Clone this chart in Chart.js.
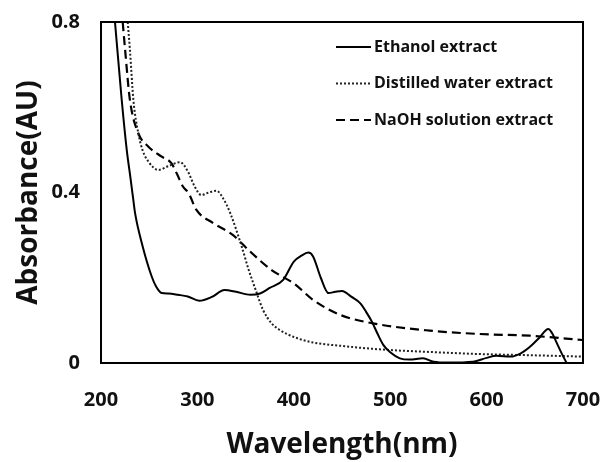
<!DOCTYPE html>
<html>
<head>
<meta charset="utf-8">
<script src="https://cdn.jsdelivr.net/npm/chart.js@4.4.1/dist/chart.umd.min.js"></script>
<style>
  html, body { margin: 0; padding: 0; background: #fff; }
  #wrap { width: 611px; height: 462px; }
</style>
</head>
<body>
<div id="wrap"><canvas id="absChart"></canvas></div>
<script>
// series (wavelength in nm, absorbance in AU)
var ethanolWl  = [214.5, 221.5, 226.7, 230.7, 233.5, 235.3, 243.3, 252.6, 257, 263, 270, 280, 290, 302, 315, 328, 340, 355, 365, 375, 389, 400, 408, 415, 420, 428, 436, 443, 450, 460, 469, 475, 481, 487, 493, 500, 510, 520, 534, 545, 560, 586, 600, 610, 625, 635, 645, 655, 664, 668, 673, 678, 683];
var ethanolAbs = [0.8, 0.617, 0.5, 0.432, 0.383, 0.352, 0.273, 0.203, 0.18, 0.164, 0.163, 0.16, 0.156, 0.146, 0.155, 0.171, 0.167, 0.16, 0.163, 0.176, 0.195, 0.238, 0.252, 0.259, 0.25, 0.2, 0.164, 0.167, 0.169, 0.155, 0.14, 0.12, 0.097, 0.068, 0.042, 0.025, 0.011, 0.008, 0.011, 0.003, 0.001, 0.003, 0.012, 0.017, 0.015, 0.022, 0.038, 0.06, 0.08, 0.07, 0.046, 0.022, 0.0];

var waterWl  = [227.7, 230, 233.6, 238.7, 243, 250, 259.5, 270, 282, 290, 297, 304, 312, 320, 327, 334, 346, 353, 360.5, 368, 377, 385, 393, 405, 420, 450, 489, 540, 593, 650, 700];
var waterAbs = [0.8, 0.735, 0.617, 0.539, 0.5, 0.47, 0.453, 0.462, 0.471, 0.45, 0.415, 0.394, 0.4, 0.404, 0.385, 0.352, 0.273, 0.22, 0.171, 0.125, 0.093, 0.078, 0.068, 0.057, 0.048, 0.04, 0.032, 0.026, 0.021, 0.018, 0.015];

var naohWl  = [222.5, 225, 230, 238.7, 249, 263, 273, 278.5, 285, 291, 299, 316.5, 337, 353, 377, 391, 400, 420, 448, 482, 541, 593, 645, 700];
var naohAbs = [0.8, 0.735, 0.617, 0.539, 0.508, 0.484, 0.469, 0.445, 0.414, 0.398, 0.359, 0.328, 0.3, 0.265, 0.218, 0.199, 0.187, 0.148, 0.113, 0.093, 0.076, 0.068, 0.064, 0.054];

var seriesNames = ['Ethanol extract', 'Distilled water extract', 'NaOH solution extract'];
var xTicks = [200, 300, 400, 500, 600, 700];
var yTicks = [0, 0.4, 0.8];

function toPoints(xs, ys) {
    return xs.map(function(x, i) { return {x: x, y: ys[i]}; });
}

var FONT = "'Open Sans', 'DejaVu Sans', sans-serif";

// box around the plot area + legend inside it
var frameAndLegend = {
    id: 'frameAndLegend',
    afterDraw: function(chart) {
        var c = chart.ctx, a = chart.chartArea;
        c.save();
        c.strokeStyle = '#000';
        c.lineWidth = 2;
        c.setLineDash([]);
        c.strokeRect(a.left, a.top, a.right - a.left, a.bottom - a.top);

        var x0 = 336, x1 = 371, y0 = 47, step = 36.5;
        chart.data.datasets.forEach(function(ds, i) {
            var y = y0 + i * step;
            c.beginPath();
            c.strokeStyle = ds.borderColor;
            c.lineWidth = ds.borderWidth;
            c.setLineDash(ds.borderDash || []);
            c.moveTo(x0, y);
            c.lineTo(x1, y);
            c.stroke();
            c.setLineDash([]);
            c.fillStyle = '#111';
            c.font = 'bold 16px ' + FONT;
            c.textBaseline = 'middle';
            c.textAlign = 'left';
            c.fillText(ds.label, x1 + 3, y);
        });
        c.restore();
    }
};

// invisible tick marks, only used to push the labels away from the frame
function hiddenGrid(len) {
    return { display: true, drawOnChartArea: false, drawTicks: true, tickLength: len,
             color: 'rgba(0,0,0,0)', tickColor: 'rgba(0,0,0,0)' };
}

var ctx = document.getElementById('absChart');

var absChart = new Chart(ctx, {
    type: 'line',
    data: {
        datasets: [{
            label: seriesNames[0],
            data: toPoints(ethanolWl, ethanolAbs),
            borderColor: '#000',
            borderWidth: 2,
            pointRadius: 0,
            cubicInterpolationMode: 'monotone'
        }, {
            label: seriesNames[1],
            data: toPoints(waterWl, waterAbs),
            borderColor: '#222',
            borderWidth: 2,
            borderDash: [2, 2],
            pointRadius: 0,
            cubicInterpolationMode: 'monotone'
        }, {
            label: seriesNames[2],
            data: toPoints(naohWl, naohAbs),
            borderColor: '#000',
            borderWidth: 2.2,
            borderDash: [9, 5],
            pointRadius: 0,
            cubicInterpolationMode: 'monotone'
        }]
    },
    options: {
        responsive: true,
        maintainAspectRatio: false,
        animation: false,
        layout: { padding: { left: 0, top: 22, right: 28, bottom: 0 } },
        plugins: {
            legend: { display: false },
            tooltip: { enabled: false }
        },
        scales: {
            x: {
                type: 'linear',
                min: 200,
                max: 700,
                afterFit: function(scale) { scale.height = 99; },
                afterBuildTicks: function(scale) {
                    scale.ticks = xTicks.map(function(v) { return {value: v}; });
                },
                grid: hiddenGrid(24),
                border: { display: false },
                ticks: {
                    padding: 1,
                    color: '#111',
                    font: { family: FONT, size: 20, weight: 'bold' }
                },
                title: {
                    display: true,
                    text: 'Wavelength(nm)',
                    color: '#111',
                    padding: { top: 0, bottom: 0 },
                    font: { family: FONT, size: 28, weight: 'bold' }
                }
            },
            y: {
                min: 0,
                max: 0.8,
                afterFit: function(scale) { scale.width = 101; },
                afterBuildTicks: function(scale) {
                    scale.ticks = yTicks.map(function(v) { return {value: v}; });
                },
                grid: hiddenGrid(20),
                border: { display: false },
                ticks: {
                    padding: 1,
                    color: '#111',
                    font: { family: FONT, size: 20, weight: 'bold' },
                    callback: function(v) { return String(v); }
                },
                title: {
                    display: true,
                    text: 'Absorbance(AU)',
                    color: '#111',
                    padding: { top: 12, bottom: 0 },
                    font: { family: FONT, size: 28, weight: 'bold' }
                }
            }
        }
    },
    plugins: [frameAndLegend]
});
</script>
</body>
</html>
